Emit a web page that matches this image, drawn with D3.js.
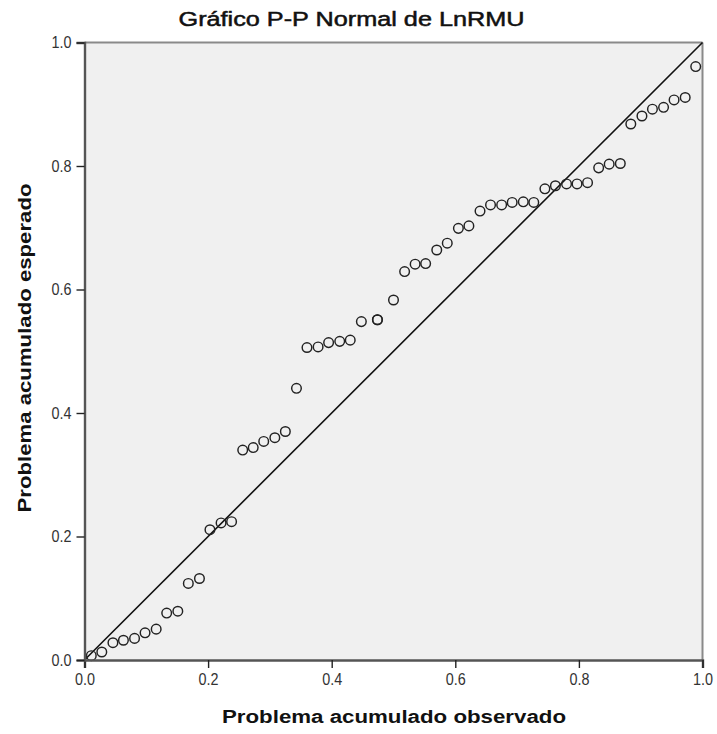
<!DOCTYPE html>
<html>
<head>
<meta charset="utf-8">
<script src="https://cdn.jsdelivr.net/npm/d3@7"></script>
<style>
  html, body { margin: 0; padding: 0; background: #ffffff; }
  svg { display: block; font-family: "Liberation Sans", Arial, sans-serif; }
</style>
</head>
<body>
<div id="chart"></div>
<script>
const titleText = "Gráfico P-P Normal de LnRMU";
const xLabel = "Problema acumulado observado";
const yLabel = "Problema acumulado esperado";
const tickValues = [0, 0.2, 0.4, 0.6, 0.8, 1.0];

// Observed cumulative probability (x) of each case
const observed = [
  0.011, 0.028, 0.046, 0.063, 0.081, 0.098, 0.116, 0.133, 0.151, 0.168,
  0.186, 0.203, 0.221, 0.238, 0.256, 0.273, 0.290, 0.308, 0.325, 0.343,
  0.360, 0.378, 0.395, 0.413, 0.430, 0.448, 0.474, 0.474, 0.500, 0.518,
  0.535, 0.552, 0.570, 0.587, 0.605, 0.622, 0.640, 0.657, 0.675, 0.692,
  0.710, 0.727, 0.745, 0.762, 0.780, 0.797, 0.814, 0.832, 0.849, 0.867,
  0.884, 0.902, 0.919, 0.937, 0.954, 0.972, 0.989
];
// Expected cumulative probability (y) of each case
const expected = [
  0.007, 0.013, 0.028, 0.032, 0.035, 0.044, 0.050, 0.076, 0.079, 0.124,
  0.132, 0.211, 0.222, 0.224, 0.340, 0.344, 0.354, 0.360, 0.370, 0.440,
  0.506, 0.507, 0.514, 0.516, 0.518, 0.548, 0.551, 0.551, 0.583, 0.629,
  0.641, 0.642, 0.664, 0.675, 0.699, 0.703, 0.727, 0.737, 0.737, 0.741,
  0.742, 0.741, 0.763, 0.768, 0.771, 0.771, 0.773, 0.797, 0.803, 0.804,
  0.868, 0.881, 0.892, 0.895, 0.907, 0.911, 0.961
];
// Reference (diagonal) line
const refLine = [[0, 0], [1, 1]];

const W = 717, H = 734;
const plot = { left: 84.5, right: 702.5, top: 42.5, bottom: 660 };

const svg = d3.select("#chart").append("svg")
  .attr("width", W).attr("height", H);

const x = d3.scaleLinear().domain([0, 1]).range([plot.left, plot.right]);
const y = d3.scaleLinear().domain([0, 1]).range([plot.bottom, plot.top]);

// plot background
svg.append("rect")
  .attr("x", plot.left).attr("y", plot.top)
  .attr("width", plot.right - plot.left).attr("height", plot.bottom - plot.top)
  .attr("fill", "#f0f0f0");

// top and right frame
svg.append("line")
  .attr("x1", plot.left).attr("x2", plot.right)
  .attr("y1", plot.top).attr("y2", plot.top)
  .attr("stroke", "#8a8a8a").attr("stroke-width", 2);
svg.append("line")
  .attr("x1", plot.right).attr("x2", plot.right)
  .attr("y1", plot.top).attr("y2", plot.bottom)
  .attr("stroke", "#8a8a8a").attr("stroke-width", 2);

// reference line
svg.append("path")
  .datum(refLine)
  .attr("d", d3.line().x(d => x(d[0])).y(d => y(d[1])))
  .attr("stroke", "#111").attr("stroke-width", 1.6).attr("fill", "none");

// points
svg.append("g").selectAll("circle")
  .data(observed.map((v, i) => [v, expected[i]]))
  .join("circle")
  .attr("cx", d => x(d[0])).attr("cy", d => y(d[1]))
  .attr("r", 4.8)
  .attr("fill", "none").attr("stroke", "#222").attr("stroke-width", 1.45);

// axes
const xAxis = d3.axisBottom(x).tickValues(tickValues).tickFormat(d3.format(".1f"))
  .tickSize(8).tickPadding(6);
const yAxis = d3.axisLeft(y).tickValues(tickValues).tickFormat(d3.format(".1f"))
  .tickSize(8).tickPadding(5);

const gx = svg.append("g").attr("transform", `translate(0,${plot.bottom})`).call(xAxis);
const gy = svg.append("g").attr("transform", `translate(${plot.left},0)`).call(yAxis);

[gx, gy].forEach(g => {
  g.select(".domain").attr("stroke", "#555").attr("stroke-width", 2.4);
  g.selectAll(".tick line").attr("stroke", "#222").attr("stroke-width", 1.4);
  g.selectAll(".tick text").attr("fill", "#333").style("font-size", "16px")
    .style("font-family", '"Liberation Sans", Arial, sans-serif')
    .attr("textLength", 20).attr("lengthAdjust", "spacingAndGlyphs");
});

// title
svg.append("text")
  .attr("x", 351.5).attr("y", 26)
  .attr("text-anchor", "middle")
  .style("font-size", "20px")
  .attr("fill", "#111").attr("stroke", "#111").attr("stroke-width", 0.5)
  .attr("textLength", 346).attr("lengthAdjust", "spacingAndGlyphs")
  .text(titleText);

// x label
svg.append("text")
  .attr("x", 394).attr("y", 723)
  .attr("text-anchor", "middle")
  .style("font-size", "18px").style("font-weight", "bold")
  .attr("fill", "#111")
  .attr("textLength", 344).attr("lengthAdjust", "spacingAndGlyphs")
  .text(xLabel);

// y label
svg.append("text")
  .attr("transform", `translate(31,348) rotate(-90)`)
  .attr("text-anchor", "middle")
  .style("font-size", "18px").style("font-weight", "bold")
  .attr("fill", "#111")
  .attr("textLength", 329).attr("lengthAdjust", "spacingAndGlyphs")
  .text(yLabel);
</script>
</body>
</html>
